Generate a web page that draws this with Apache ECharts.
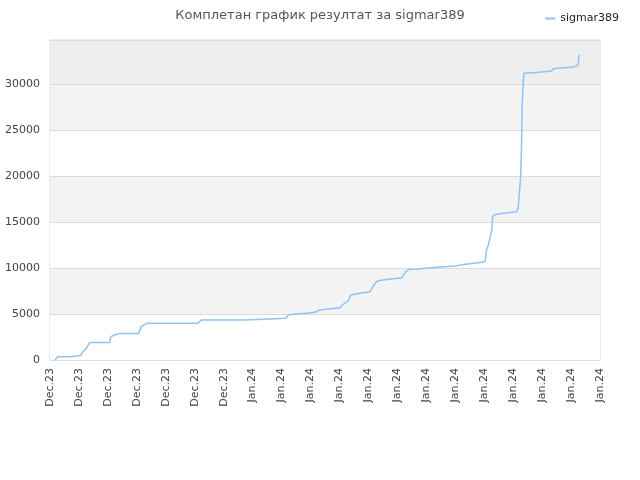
<!DOCTYPE html>
<html>
<head>
<meta charset="utf-8">
<script src="https://cdn.jsdelivr.net/npm/echarts@6/dist/echarts.min.js"></script>
<style>
  html, body { margin: 0; padding: 0; background: #fff; }
  #chart { width: 640px; height: 480px; }
</style>
</head>
<body>
<div id="chart"></div>
<script>
// tick labels along the bottom, one per tick
const tickLabels = [
  'Dec.23', 'Dec.23', 'Dec.23', 'Dec.23', 'Dec.23', 'Dec.23', 'Dec.23',
  'Jan.24', 'Jan.24', 'Jan.24', 'Jan.24', 'Jan.24', 'Jan.24', 'Jan.24',
  'Jan.24', 'Jan.24', 'Jan.24', 'Jan.24', 'Jan.24', 'Jan.24'
];

// position of each point, in tick units
const xPos = [
  0.18, 0.26, 0.72, 0.74, 1.06, 1.11, 1.20, 1.29, 1.37, 2.06,
  2.10, 2.23, 2.41, 3.06, 3.15, 3.27, 3.36, 5.11, 5.23, 6.74,
  6.77, 8.15, 8.23, 8.46, 8.87, 9.15, 9.30, 10.02, 10.13, 10.30,
  10.39, 10.59, 11.05, 11.23, 11.34, 11.51, 12.15, 12.32, 12.41, 12.67,
  13.07, 13.53, 13.99, 14.34, 14.74, 15.03, 15.08, 15.14, 15.20, 15.26,
  15.29, 15.34, 15.54, 16.12, 16.17, 16.21, 16.26, 16.29, 16.31, 16.35,
  16.37, 16.87, 17.33, 17.39, 17.73, 18.07, 18.17, 18.25, 18.27
];

// cumulative score at each point
const score = [
  0, 350, 350, 480, 480, 800, 1090, 1450, 1900, 1900,
  2540, 2720, 2900, 2900, 3630, 3850, 4000, 4000, 4360, 4360,
  4540, 4540, 4900, 5010, 5080, 5190, 5450, 5700, 6070, 6430,
  7080, 7220, 7440, 8350, 8640, 8715, 8970, 9730, 9880, 9910,
  10020, 10130, 10240, 10420, 10570, 10710, 11980, 12530, 13250, 14160,
  15610, 15830, 15940, 16160, 16520, 17970, 20150, 23420, 27780, 30140,
  31230, 31340, 31480, 31730, 31840, 31880, 32060, 32140, 33230
];

const seriesName = 'sigmar389';

const chart = echarts.init(document.getElementById('chart'));

chart.setOption({
  animation: false,
  title: {
    text: 'Комплетан график резултат за ' + seriesName,
    left: 'center',
    top: 4,
    textStyle: {
      fontFamily: 'DejaVu Sans',
      fontSize: 13,
      fontWeight: 'normal',
      color: '#555'
    }
  },
  legend: {
    data: [seriesName],
    right: 16,
    top: 8,
    icon: 'rect',
    itemWidth: 10,
    itemHeight: 2,
    itemGap: 10,
    textStyle: { fontFamily: 'DejaVu Sans', fontSize: 11, color: '#222' }
  },
  grid: {
    left: 50,
    right: 40,
    top: 40,
    bottom: 120,
    show: true,
    borderColor: '#dcdcdc',
    borderWidth: 1,
    containLabel: false
  },
  xAxis: {
    type: 'value',
    min: 0,
    max: tickLabels.length - 1,
    interval: 1,
    axisLine: { show: false },
    axisTick: { show: false },
    splitLine: { show: false },
    axisLabel: {
      rotate: 90,
      margin: 8,
      fontFamily: 'DejaVu Sans',
      fontSize: 11,
      color: '#444',
      showMinLabel: true,
      showMaxLabel: true,
      formatter: v => tickLabels[Math.round(v)] || ''
    }
  },
  yAxis: {
    type: 'value',
    min: 0,
    max: 34860,
    interval: 5000,
    axisLine: { show: false },
    axisTick: { show: false },
    axisLabel: {
      margin: 10,
      fontFamily: 'DejaVu Sans',
      fontSize: 11,
      color: '#444',
      showMaxLabel: false,
      formatter: v => String(v)
    },
    splitLine: { lineStyle: { color: '#dcdcdc', width: 1 } },
    splitArea: {
      show: true,
      areaStyle: {
        color: ['#ffffff', '#f3f3f3', '#ffffff', '#f3f3f3', '#ffffff', '#f3f3f3', '#eeeeee']
      }
    }
  },
  series: [{
    name: seriesName,
    type: 'line',
    symbol: 'none',
    data: xPos.map((x, i) => [x, score[i]]),
    lineStyle: { color: '#8ec3f3', width: 1.5 },
    itemStyle: { color: '#8ec3f3' }
  }]
});
</script>
</body>
</html>
